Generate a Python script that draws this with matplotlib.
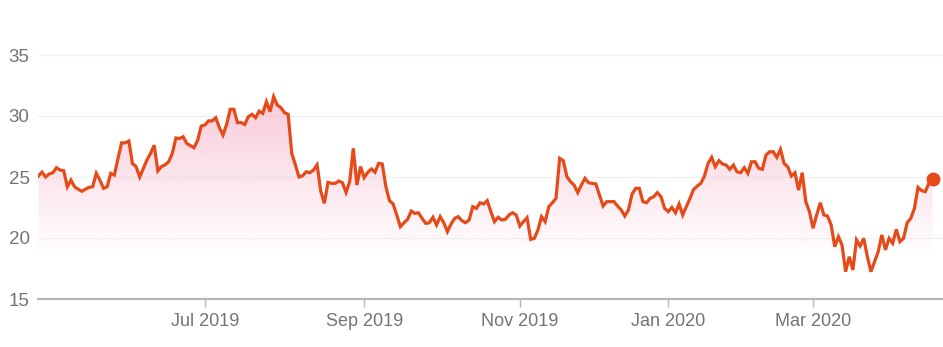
import numpy as np
import pandas as pd
import matplotlib
matplotlib.use("Agg")
import matplotlib.pyplot as plt

# ---- data ----
start_date = "2019-04-25"
market_holidays = ["2019-05-27", "2019-07-04", "2019-09-02", "2019-11-28",
                   "2019-12-25", "2020-01-01", "2020-01-20", "2020-02-17",
                   "2020-04-10"]
prices = [
    25.08, 25.4, 25.0, 25.25, 25.35, 25.76, 25.57, 25.52, 24.2, 24.75,
    24.2, 24.0, 23.83, 24.0, 24.15, 24.2, 25.3, 24.75, 24.07, 24.2,
    25.3, 25.16, 26.53, 27.8, 27.8, 27.95, 26.1, 25.85, 25.0, 25.7,
    26.4, 26.94, 27.6, 25.5, 25.85, 26.0, 26.25, 26.94, 28.2, 28.15,
    28.3, 27.75, 27.57, 27.4, 28.0, 29.18, 29.26, 29.6, 29.6, 29.86,
    29.05, 28.44, 29.3, 30.55, 30.55, 29.45, 29.47, 29.3, 29.94, 30.14,
    29.86, 30.4,
    30.22, 31.17, 30.35, 31.58, 30.9, 30.68, 30.27, 30.14, 26.94, 26.0,
    25.0, 25.1, 25.43, 25.35, 25.57, 26.0, 23.85, 22.84, 24.56, 24.48,
    24.48, 24.67, 24.53, 23.74, 24.62, 27.35, 24.34, 25.85, 24.95, 25.39,
    25.66, 25.39,
    26.12, 26.07, 24.2, 23.06, 22.79, 21.89, 20.93, 21.25, 21.53, 22.21,
    22.02, 22.07, 21.61, 21.2, 21.25, 21.7, 21.07, 21.75, 21.25, 20.52,
    21.15, 21.61, 21.75, 21.42, 21.25, 21.48, 22.57, 22.43, 22.89, 22.79,
    23.06, 22.16,
    21.34, 21.7, 21.48, 21.53, 21.89, 22.07, 21.89, 20.98, 21.34, 21.67,
    19.89, 19.97, 20.65, 21.75, 21.34, 22.57, 22.89, 23.25, 26.53, 26.34,
    25.03, 24.62, 24.34, 23.72, 24.34, 24.89, 24.53, 24.48, 24.43, 23.52,
    22.62, 22.98,
    22.98, 22.98, 22.62, 22.3, 21.8, 22.3, 23.6, 24.07, 24.07, 22.98,
    22.89, 23.25, 23.39, 23.72, 23.39, 22.43, 22.16, 22.51, 22.07, 22.79,
    21.89, 22.57, 23.25, 23.98, 24.26, 24.48, 25.08, 26.12, 26.61, 25.85,
    26.34, 26.07,
    25.98, 25.63, 25.98, 25.43, 25.35, 25.76, 25.3, 26.25, 26.25, 25.71,
    25.63, 26.8, 27.07, 27.07, 26.61, 27.27, 26.12, 25.85, 25.08, 25.35,
    23.93, 25.35, 22.98, 22.16, 20.8, 21.89, 22.89, 21.89, 21.8, 21.07,
    19.29, 20.11,
    19.43, 17.24, 18.47, 17.38, 19.84, 19.34, 19.97, 18.47, 17.24, 18.06,
    18.88, 20.25, 19.02, 19.97, 19.57, 20.71, 19.7, 19.97, 21.25, 21.61,
    22.43, 24.15, 23.88, 23.8, 24.48, 24.8,
]
tick_months = ["2019-07", "2019-09", "2019-11", "2020-01", "2020-03"]
tick_labels = ["Jul 2019", "Sep 2019", "Nov 2019", "Jan 2020", "Mar 2020"]
y_ticks = [15, 20, 25, 30, 35]

# ---- build ----
dates = pd.bdate_range(start=start_date, periods=len(prices), freq="C",
                       holidays=market_holidays)
x = np.arange(len(prices))
y = np.array(prices)
tick_pos = [int(np.argmax(dates >= pd.Timestamp(m + "-01"))) for m in tick_months]

LINE = "#e64a19"
TXT = "#70757a"

fig = plt.figure(figsize=(9.43, 3.47), dpi=100)
ax = fig.add_axes([38 / 943, 48 / 347, 1 - 38 / 943, (299 - 18.4) / 347])

xmin, xmax = -0.1, 249.9
ymin, ymax = 15, 38

# gradient fill under the line
poly = ax.fill_between(x, y, ymin, color="none", lw=0)
path = poly.get_paths()[0]
n = 256
rgba = np.zeros((n, 1, 4))
rgba[..., 0] = 247 / 255
rgba[..., 1] = 196 / 255
rgba[..., 2] = 212 / 255
rgba[..., 3] = np.linspace(0.9, 0.0, n).reshape(-1, 1)
im = ax.imshow(rgba, extent=[xmin, xmax, 18.5, 32], aspect="auto",
               origin="upper", zorder=1, interpolation="bilinear")
im.set_clip_path(path, transform=ax.transData)

for v in y_ticks[1:]:
    ax.axhline(v, color="#f1f1f1", lw=1.0, zorder=0.5)

ax.plot(x, y, color=LINE, lw=2.3, zorder=3, solid_joinstyle="miter")
ax.plot(x[-1:], y[-1:], "o", color=LINE, ms=9, zorder=4)

ax.set_xlim(xmin, xmax)
ax.set_ylim(ymin, ymax)

for s in ["top", "right", "left"]:
    ax.spines[s].set_visible(False)
ax.spines["bottom"].set_color("#b7b7b7")
ax.spines["bottom"].set_linewidth(1.6)

ax.set_yticks(y_ticks)
ax.set_yticklabels([str(v) for v in y_ticks])
ax.tick_params(axis="y", length=0, pad=6, labelsize=13.5, labelcolor=TXT)
ax.set_xticks(tick_pos)
ax.set_xticklabels(tick_labels)
ax.tick_params(axis="x", length=6, width=1.0, color="#b7b7b7", pad=4,
               labelsize=13, labelcolor=TXT)
for lab in ax.get_xticklabels() + ax.get_yticklabels():
    lab.set_fontfamily(["Liberation Sans", "DejaVu Sans"])

fig.savefig("out.png", dpi=100, facecolor="white")
